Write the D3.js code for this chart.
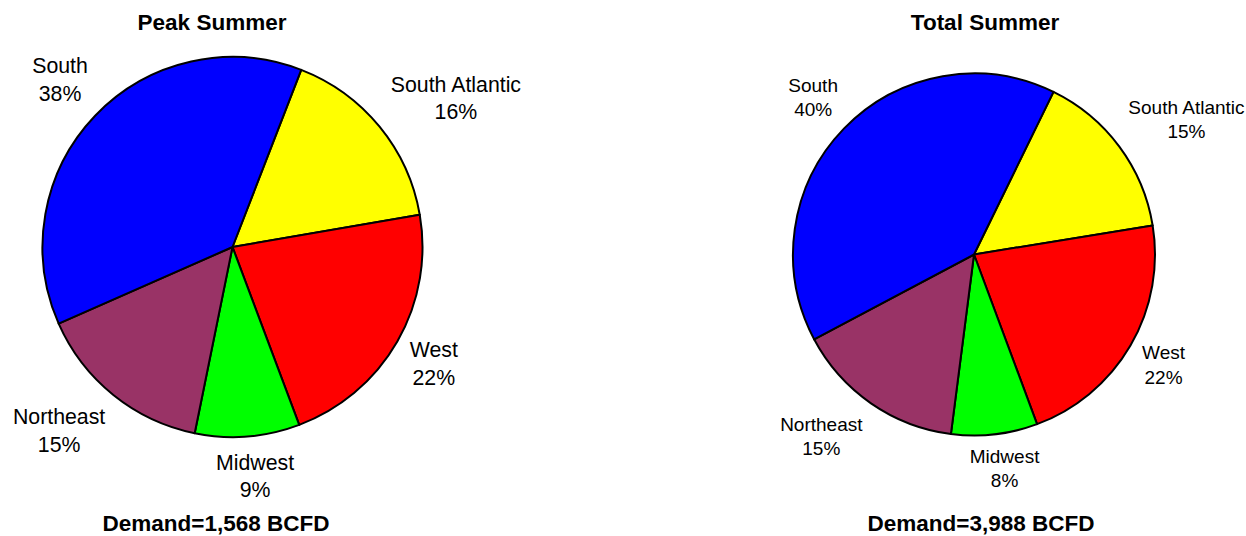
<!DOCTYPE html>
<html>
<head>
<meta charset="utf-8">
<script src="https://cdn.jsdelivr.net/npm/d3@7"></script>
<style>
  html, body { margin: 0; padding: 0; background: #fff; }
  svg { display: block; font-family: "Liberation Sans", Arial, sans-serif; }
</style>
</head>
<body>
<svg id="chart" width="1246" height="536"></svg>
<script>
// ---- data ----
const categories = ["South Atlantic", "West", "Midwest", "Northeast", "South"];
const peakValues = [16.4, 22.0, 8.9, 15.2, 37.5];
const totalValues = [15.2, 21.9, 7.7, 15.2, 40.0];
const sliceColors = ["#FFFF00", "#FF0000", "#00FF00", "#993366", "#0000FF"];
const titles = ["Peak Summer", "Total Summer"];
const demandLabels = ["Demand=1,568 BCFD", "Demand=3,988 BCFD"];

// ---- layout ----
const deg = Math.PI / 180;
const layouts = [
  { cx: 232.5, cy: 247, r: 190, start: 21.2, fs: 21.3, lhf: 1.3, gap: 18, titleX: 212, titleY: 30, titleFs: 22.5, demX: 216, demY: 531, demFs: 22.5,
    nudge: { "South": [-2, -5], "South Atlantic": [12, 0], "West": [0, -1], "Midwest": [3, -6], "Northeast": [-14, 0] } },
  { cx: 974, cy: 254.5, r: 181, start: 26.05, fs: 19, lhf: 1.28, gap: 18, titleX: 985, titleY: 30, titleFs: 22.5, demX: 981, demY: 531, demFs: 22.5,
    nudge: { "South": [0, -2], "South Atlantic": [6, -2], "West": [-1, -2], "Midwest": [4, -8], "Northeast": [-16, -2] } }
];
const seriesValues = [peakValues, totalValues];

const svg = d3.select("#chart");

seriesValues.forEach((vals, ci) => {
  const L = layouts[ci];
  const data = categories.map((c, i) => ({ name: c, value: vals[i], color: sliceColors[i] }));
  const pie = d3.pie().sort(null).value(d => d.value)
    .startAngle(L.start * deg).endAngle(L.start * deg + 2 * Math.PI);
  const arcs = pie(data);
  const arc = d3.arc().innerRadius(0).outerRadius(L.r);
  const g = svg.append("g").attr("transform", `translate(${L.cx},${L.cy})`);

  g.selectAll("path").data(arcs).join("path")
    .attr("d", arc)
    .attr("fill", d => d.data.color)
    .attr("stroke", "#000")
    .attr("stroke-width", 2)
    .attr("stroke-linejoin", "round");

  const total = d3.sum(vals);
  const lh = L.fs * L.lhf;
  arcs.forEach(a => {
    const t = g.append("text")
      .attr("text-anchor", "middle")
      .attr("font-size", L.fs)
      .attr("fill", "#000");
    const t1 = t.append("tspan").text(a.data.name);
    const t2 = t.append("tspan").text(Math.round(a.data.value / total * 100) + "%");
    const w = Math.max(t1.node().getComputedTextLength(), t2.node().getComputedTextLength());
    const h = 2 * lh;
    const th = (a.startAngle + a.endAngle) / 2;
    const s = Math.sin(th), c = -Math.cos(th);
    const rr = L.r + L.gap;
    const nd = L.nudge[a.data.name] || [0, 0];
    const bx = rr * s + s * w / 2 + nd[0];
    const by = rr * c + c * h / 2 + nd[1];
    const base1 = by - lh / 2 + 0.36 * L.fs;
    t1.attr("x", bx).attr("y", base1);
    t2.attr("x", bx).attr("y", base1 + lh);
  });

  svg.append("text")
    .attr("x", L.titleX).attr("y", L.titleY)
    .attr("text-anchor", "middle")
    .attr("font-weight", "bold")
    .attr("font-size", L.titleFs)
    .text(titles[ci]);

  svg.append("text")
    .attr("x", L.demX).attr("y", L.demY)
    .attr("text-anchor", "middle")
    .attr("font-weight", "bold")
    .attr("font-size", L.demFs)
    .text(demandLabels[ci]);
});
</script>
</body>
</html>
